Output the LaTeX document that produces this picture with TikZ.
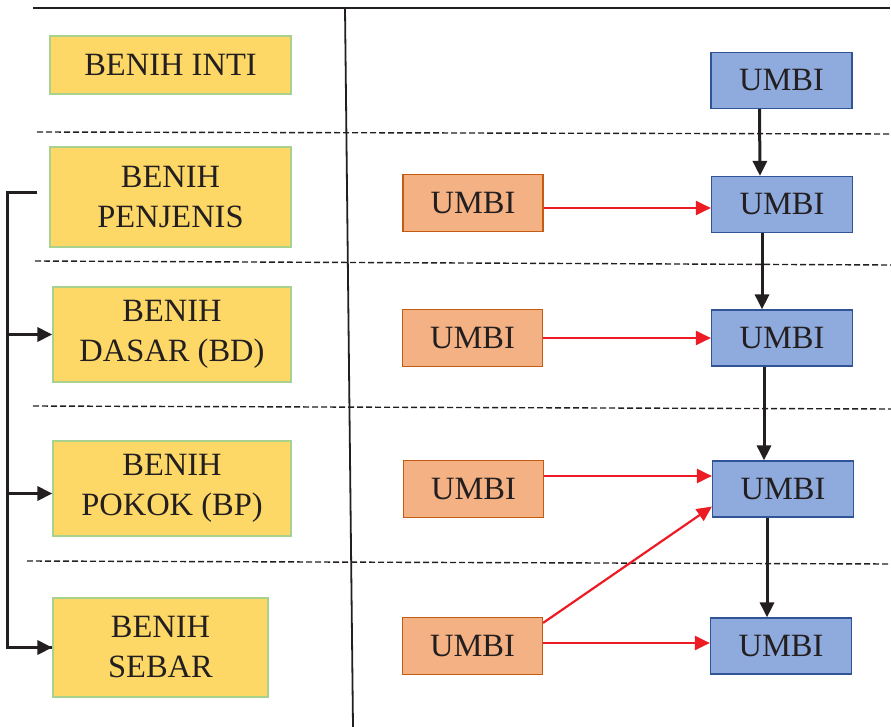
\documentclass[tikz,border=0pt]{standalone}
\usepackage{fontspec}
\setmainfont{Liberation Serif}
\usepackage{xcolor}
\usepackage{tikz}
\usetikzlibrary{arrows.meta,positioning,calc}
\definecolor{benihyellow}{HTML}{FDD866}
\definecolor{benihgreen}{HTML}{A9D18E}
\definecolor{umbiorange}{HTML}{F4B183}
\definecolor{umbibrown}{HTML}{C55A11}
\definecolor{umbiblue}{HTML}{8FAADC}
\definecolor{umbinavy}{HTML}{2F5597}
\definecolor{inkdark}{HTML}{231F20}
\definecolor{arrowred}{HTML}{ED1C24}

\begin{document}
\begin{tikzpicture}[
    x=1pt, y=-1pt,
    kelas/.style={rectangle, draw=benihgreen, line width=1.2pt, fill=benihyellow, align=center, inner sep=0pt, text=inkdark, font=\fontsize{32.5}{40}\selectfont},
    sumber/.style={rectangle, draw=umbibrown, line width=1.2pt, fill=umbiorange, inner sep=0pt, text=inkdark, minimum width=140pt, minimum height=57pt, font=\fontsize{32.5}{40}\selectfont},
    hasil/.style={rectangle, draw=umbinavy, line width=1.2pt, fill=umbiblue, inner sep=0pt, text=inkdark, minimum width=141pt, minimum height=56pt, font=\fontsize{32.5}{40}\selectfont},
    turun/.style={draw=inkdark, line width=3pt, -{Triangle[length=15pt,width=14pt]}},
    tambah/.style={draw=arrowred, line width=2.2pt, -{Triangle[length=15pt,width=14pt]}},
    cabang/.style={draw=inkdark, line width=3pt},
    batas/.style={draw=inkdark, line width=1.4pt, dash pattern=on 6pt off 3pt}
]
\useasboundingbox (0,0) rectangle (891,727);

% frame and level separators
\draw [draw=inkdark, line width=2pt] (33,8) -- (890,8);
\draw [draw=inkdark, line width=1.8pt] (345,8) -- (353,727);
\draw [batas] (37,132) -- (891,134);
\draw [batas] (35,261) -- (891,265);
\draw [batas] (33,406) -- (891,409);
\draw [batas] (27,561) -- (891,564);

% seed classes
\node [kelas, minimum width=241pt, minimum height=58pt] (inti) at (170.5,65) {BENIH INTI};
\node [kelas, minimum width=241pt, minimum height=100pt] (penjenis) at (170.5,197) {BENIH\\PENJENIS};
\node [kelas, minimum width=238pt, minimum height=95pt] (dasar) at (172,334.5) {BENIH\\DASAR (BD)};
\node [kelas, minimum width=238pt, minimum height=95pt] (pokok) at (172,488.5) {BENIH\\POKOK (BP)};
\node [kelas, minimum width=215pt, minimum height=99pt] (sebar) at (160.5,647.5) {BENIH\\SEBAR};

% tubers
\node [sumber] (o1) at (473,203) {UMBI};
\node [sumber] (o2) at (472.5,338) {UMBI};
\node [sumber] (o3) at (473.5,489) {UMBI};
\node [sumber] (o4) at (472.5,646) {UMBI};

\node [hasil] (b0) at (781.5,80.5) {UMBI};
\node [hasil] (b1) at (782,204.5) {UMBI};
\node [hasil] (b2) at (782,338) {UMBI};
\node [hasil] (b3) at (783,489) {UMBI};
\node [hasil] (b4) at (781,646) {UMBI};

% bracket on the left
\coordinate (pangkal) at (37,193);
\coordinate (rel) at (7,193);
\draw [cabang] (pangkal) -- (rel) |- (sebar.west);
\draw [turun] (rel |- dasar.west) -- (dasar.west);
\draw [turun] ([yshift=-5pt]rel |- pokok.west) -- ([yshift=-5pt]pokok.west);
\draw [turun] (rel |- sebar.west) -- (sebar.west);

% generation arrows
\draw [turun] ([xshift=-22pt]b0.south) -- ([xshift=-22pt]b1.north);
\draw [turun] ([xshift=-20pt]b1.south) -- ([xshift=-20pt]b2.north);
\draw [turun] ([xshift=-18pt]b2.south) -- ([xshift=-19pt]b3.north);
\draw [turun] ([xshift=-16pt]b3.south) -- ([xshift=-14pt]b4.north);

% red input arrows
\draw [tambah] ([yshift=-5pt]o1.east) -- ([yshift=-5pt]o1.east -| b1.west);
\draw [tambah] (o2.east) -- (b2.west);
\draw [tambah] ([yshift=13pt]o3.east) -- ([yshift=13pt]b3.west);
\draw [tambah] ([yshift=3pt]o4.east) -- ([yshift=3pt]b4.west);
\draw [tambah] ([yshift=-6pt]o4.north east) -- ([yshift=11pt]b3.south west);

\end{tikzpicture}
\end{document}
